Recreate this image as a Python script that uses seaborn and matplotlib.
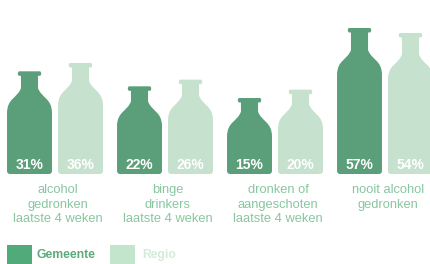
import numpy as np
import pandas as pd
import seaborn as sns
import matplotlib
matplotlib.use("Agg")
import matplotlib.pyplot as plt
from matplotlib.path import Path
from matplotlib.patches import PathPatch, Rectangle

categories = ["alcohol\ngedronken\nlaatste 4 weken",
              "binge\ndrinkers\nlaatste 4 weken",
              "dronken of\naangeschoten\nlaatste 4 weken",
              "nooit alcohol\ngedronken"]
gemeente = [31, 22, 15, 57]
regio = [36, 26, 20, 54]
series = ["Gemeente", "Regio"]

DARK = "#50aa79"
LIGHT = "#c2e5cb"
TEXT = "#88c6a0"

df = pd.DataFrame({
    "cat": categories * 2,
    "group": [series[0]] * 4 + [series[1]] * 4,
    "val": gemeente + regio,
})

sns.set_theme(style="white")
plt.rcParams['font.family'] = ['Liberation Sans', 'DejaVu Sans']

W, H = 431, 264
fig = plt.figure(figsize=(W / 100, H / 100), dpi=100)
ax = fig.add_axes([0, 0, 1, 1])

sns.barplot(data=df, x="cat", y="val", hue="group", palette=[DARK, LIGHT],
            width=0.927, gap=0.118, ax=ax, legend=False, errorbar=None,
            order=categories, hue_order=series)

PXX = 110.0          # pixels per category unit
PXY = 1.667          # pixels per percent
BASE = -30.6         # axis value at bottle base
BASE_PX = 174
ax.set_xlim(-55 / PXX, -55 / PXX + W / PXX)
ax.set_ylim(BASE - (H - BASE_PX) / PXY, BASE + BASE_PX / PXY)
ax.axis("off")

ky = 1 / PXY
kx = 1 / PXX
for p in list(ax.patches):
    x0 = p.get_x()
    w = p.get_width()
    x1 = x0 + w
    cx = x0 + w / 2
    yt = p.get_height()
    col = p.get_facecolor()
    p.set_visible(False)
    Hpx = (yt - BASE) / ky
    lip = 4.5 * ky
    neck = 0.12 * Hpx * ky
    sh = 25 * ky
    bt = yt - lip - neck - sh
    nw = 0.38 * w
    lw = 0.52 * w
    xn0, xn1 = cx - nw / 2, cx + nw / 2
    xl0, xl1 = cx - lw / 2, cx + lw / 2
    d = xn0 - x0
    rx, ry = 3 * kx, 3 * ky
    lr = 1.5 * kx
    verts = [
        (x0, BASE + ry),
        (x0, bt),
        (x0, bt + 0.6 * sh), (x0 + 0.75 * d, bt + 0.6 * sh), (xn0, bt + sh),
        (xn0, yt - lip),
        (xl0 + lr, yt - lip),
        (xl0, yt - lip), (xl0, yt - lip / 2),
        (xl0, yt), (xl0 + lr, yt),
        (xl1 - lr, yt),
        (xl1, yt), (xl1, yt - lip / 2),
        (xl1, yt - lip), (xl1 - lr, yt - lip),
        (xn1, yt - lip),
        (xn1, bt + sh),
        (x1 - 0.75 * d, bt + 0.6 * sh), (x1, bt + 0.6 * sh), (x1, bt),
        (x1, BASE + ry),
        (x1, BASE), (x1 - rx, BASE),
        (x0 + rx, BASE),
        (x0, BASE), (x0, BASE + ry),
        (x0, BASE + ry),
    ]
    codes = [Path.MOVETO, Path.LINETO,
             Path.CURVE4, Path.CURVE4, Path.CURVE4,
             Path.LINETO, Path.LINETO,
             Path.CURVE3, Path.CURVE3,
             Path.CURVE3, Path.CURVE3,
             Path.LINETO,
             Path.CURVE3, Path.CURVE3,
             Path.CURVE3, Path.CURVE3,
             Path.LINETO, Path.LINETO,
             Path.CURVE4, Path.CURVE4, Path.CURVE4,
             Path.LINETO,
             Path.CURVE3, Path.CURVE3,
             Path.LINETO,
             Path.CURVE3, Path.CURVE3,
             Path.CLOSEPOLY]
    ax.add_patch(PathPatch(Path(verts, codes), facecolor=col, edgecolor="none"))
    ax.text(cx, BASE + 9 * ky, f"{int(round(yt))}%", ha="center", va="center",
            color="white", fontsize=10, fontweight="bold")

for i, c in enumerate(categories):
    ax.text(i + 3 * kx, BASE - 10 * ky, c, ha="center", va="top", color=TEXT,
            fontsize=9.3, linespacing=1.28)

# legend
def px2fig(x, y):
    return x / W, 1 - y / H

for (lx, tx, col, tcol, lab) in [(7, 37, DARK, "#5aaa7c", series[0]),
                                  (110, 142, LIGHT, "#d2ecd9", series[1])]:
    fx, fy = px2fig(lx, 264)
    fig.patches.append(Rectangle((fx, fy), 25 / W, 19 / H, transform=fig.transFigure,
                                 facecolor=col, edgecolor="none"))
    tx_, ty_ = px2fig(tx, 255)
    fig.text(tx_, ty_, lab, ha="left", va="center", color=tcol,
             fontsize=8.7, fontweight="bold")

fig.savefig("out.png", dpi=100, facecolor="white")
